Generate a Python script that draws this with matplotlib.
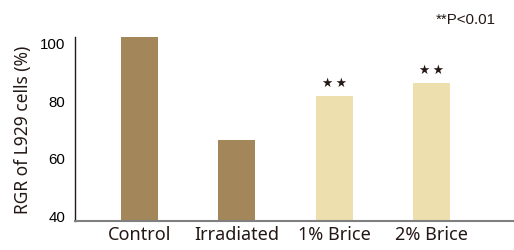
import numpy as np
import matplotlib.pyplot as plt

# Data
groups = ['Control', 'Irradiated', '1% Brice', '2% Brice']
rgr = [102, 66.2, 81.5, 86]
colors = ['#A3865A', '#A3865A', '#EDDFAE', '#EDDFAE']
marks = ['', '', '★\u2009★', '★\u2009★']
yticks = [40, 60, 80, 100]

fig = plt.figure(figsize=(5.14, 2.51), dpi=100)
ax = fig.add_axes([75 / 514, 1 - 222 / 251, 439 / 514, 184 / 251])

x = np.arange(len(groups))
ax.bar(x, rgr, width=0.38, color=colors, bottom=0)
for xi, v, m in zip(x, rgr, marks):
    if m:
        ax.text(xi, v + 2.5, m, ha='center', va='bottom', fontsize=9,
                family='DejaVu Sans', color='#231815')

ax.set_xlim(-0.665, 3.85)
ax.set_ylim(38, 102)
ax.set_yticks(yticks)
ax.set_yticklabels([str(t) for t in yticks], family='Liberation Sans', fontsize=10.8)
ax.set_xticks(x)
ax.set_xticklabels(groups, family='Noto Sans', fontsize=13, color='#231815')
ax.tick_params(length=0)
ax.tick_params(axis='y', pad=7)
ax.tick_params(axis='x', pad=3)

ax.set_ylabel('RGR of L929 cells (%)', family='Noto Sans', fontsize=12.5,
              color='#231815', labelpad=6)

ax.spines['top'].set_visible(False)
ax.spines['right'].set_visible(False)
ax.spines['left'].set_color('#231815')
ax.spines['left'].set_linewidth(1.0)
ax.spines['bottom'].set_color('#808080')
ax.spines['bottom'].set_linewidth(1.5)

fig.text(436 / 514, 1 - 20 / 251, '**P<0.01', family='Liberation Sans',
         fontsize=10.8, va='center', ha='left', color='#231815')

fig.savefig('out.png', dpi=100)
